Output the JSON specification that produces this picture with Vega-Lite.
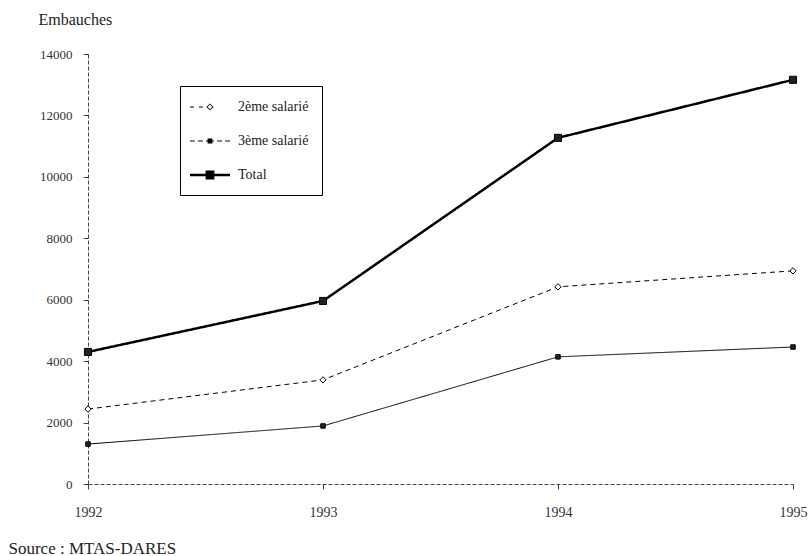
{
  "$schema": "https://vega.github.io/schema/vega-lite/v6.json",
  "width": 705,
  "height": 430,
  "autosize": {"type": "none"},
  "padding": {"left": 88, "top": 54, "right": 18, "bottom": 72},
  "background": "white",
  "config": {"view": {"stroke": null}, "font": "Liberation Serif"},
  "data": {
    "values": [
      {"annee": 1992, "serie": "2ème salarié", "embauches": 2440},
      {"annee": 1993, "serie": "2ème salarié", "embauches": 3390},
      {"annee": 1994, "serie": "2ème salarié", "embauches": 6420},
      {"annee": 1995, "serie": "2ème salarié", "embauches": 6940},
      {"annee": 1992, "serie": "3ème salarié", "embauches": 1300},
      {"annee": 1993, "serie": "3ème salarié", "embauches": 1890},
      {"annee": 1994, "serie": "3ème salarié", "embauches": 4140},
      {"annee": 1995, "serie": "3ème salarié", "embauches": 4460},
      {"annee": 1992, "serie": "Total", "embauches": 4300},
      {"annee": 1993, "serie": "Total", "embauches": 5960},
      {"annee": 1994, "serie": "Total", "embauches": 11270},
      {"annee": 1995, "serie": "Total", "embauches": 13160}
    ]
  },
  "encoding": {
    "x": {
      "field": "annee",
      "type": "quantitative",
      "scale": {"domain": [1992, 1995], "nice": false, "zero": false},
      "axis": {
        "values": [1992, 1993, 1994, 1995],
        "format": "d",
        "grid": false,
        "labelFont": "Liberation Serif",
        "labelFontSize": 14,
        "labelColor": "#333",
        "labelPadding": 16,
        "labelAlign": "center",
        "labelFlush": false,
        "tickSize": 5,
        "tickColor": "#444",
        "domainColor": "#444",
        "domainDash": [4, 2],
        "title": "Source : MTAS-DARES",
        "titleFont": "Liberation Serif",
        "titleFontSize": 17,
        "titleFontWeight": "normal",
        "titleColor": "#222",
        "titleX": -80,
        "titleY": 69,
        "titleAlign": "left",
        "titleBaseline": "alphabetic",
        "titleAnchor": null
      }
    },
    "y": {
      "field": "embauches",
      "type": "quantitative",
      "scale": {"domain": [0, 14000], "nice": false},
      "axis": {
        "values": [0, 2000, 4000, 6000, 8000, 10000, 12000, 14000],
        "format": "d",
        "grid": false,
        "labelFont": "Liberation Serif",
        "labelFontSize": 13,
        "labelColor": "#333",
        "labelPadding": 11,
        "labelFlush": false,
        "tickSize": 5,
        "tickColor": "#444",
        "domainColor": "#444",
        "domainDash": [4, 2],
        "title": "Embauches",
        "titleFont": "Liberation Serif",
        "titleFontSize": 16,
        "titleFontWeight": "normal",
        "titleColor": "#222",
        "titleAngle": 0,
        "titleX": -50,
        "titleY": -30,
        "titleAlign": "left",
        "titleBaseline": "alphabetic"
      }
    }
  },
  "layer": [
    {
      "mark": {"type": "line", "color": "black"},
      "encoding": {
        "detail": {"field": "serie", "type": "nominal"},
        "strokeDash": {
          "condition": {"test": "datum.serie === '2ème salarié'", "value": [5, 4]},
          "value": [1, 0]
        },
        "strokeWidth": {
          "condition": {"test": "datum.serie === 'Total'", "value": 2.5},
          "value": 1
        }
      }
    },
    {
      "mark": {"type": "point", "filled": true, "stroke": "black", "strokeWidth": 1, "opacity": 1},
      "encoding": {
        "shape": {
          "condition": {"test": "datum.serie === '2ème salarié'", "value": "diamond"},
          "value": "square"
        },
        "fill": {
          "condition": {"test": "datum.serie === '2ème salarié'", "value": "white"},
          "value": "#222"
        },
        "size": {
          "condition": [
            {"test": "datum.serie === 'Total'", "value": 50},
            {"test": "datum.serie === '3ème salarié'", "value": 20}
          ],
          "value": 40
        }
      }
    },
    {
      "transform": [{"filter": "false"}],
      "mark": {"type": "point", "filled": true, "color": "black", "opacity": 1},
      "encoding": {
        "shape": {
          "field": "serie",
          "type": "nominal",
          "scale": {
            "domain": ["2ème salarié", "3ème salarié", "Total"],
            "range": [
              "M-2.5,-0.07H-2.0V0.07H-2.5ZM-1.4,-0.07H-0.9V0.07H-1.4ZM0,-0.45L0.45,0L0,0.45L-0.45,0ZM0,-0.3L-0.3,0L0,0.3L0.3,0Z",
              "M-2.5,-0.07H-1.9V0.07H-2.5ZM-1.5,-0.07H-0.9V0.07H-1.5ZM-0.5,-0.07H0.5V0.07H-0.5ZM0.9,-0.07H1.5V0.07H0.9ZM1.9,-0.07H2.5V0.07H1.9ZM-0.3,-0.3H0.3V0.3H-0.3Z",
              "M-2.5,-0.16H2.5V0.16H-2.5ZM-0.55,-0.55H0.55V0.55H-0.55Z"
            ]
          },
          "legend": {
            "title": null,
            "orient": "none",
            "legendX": 92,
            "legendY": 32,
            "strokeColor": "black",
            "fillColor": "white",
            "padding": 13,
            "symbolSize": 256,
            "symbolOffset": 9,
            "symbolStrokeWidth": 0,
            "symbolFillColor": "black",
            "labelOffset": 20,
            "rowPadding": 19,
            "labelFont": "Liberation Serif",
            "labelFontSize": 14,
            "labelColor": "#222"
          }
        }
      }
    }
  ]
}
